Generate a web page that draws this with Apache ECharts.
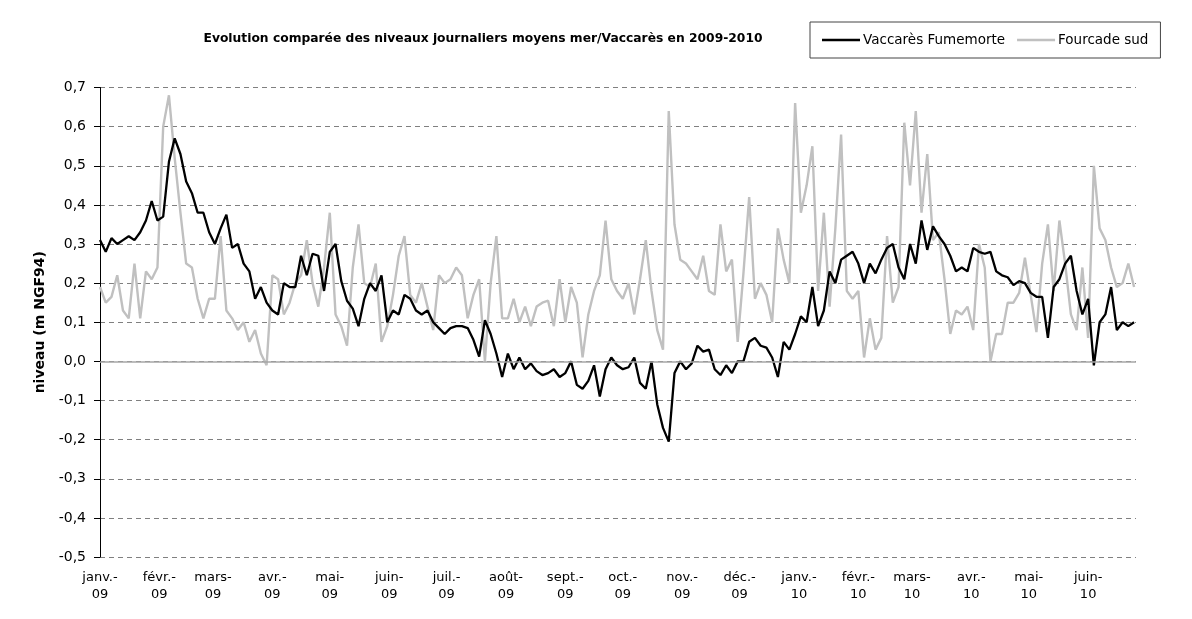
<!DOCTYPE html>
<html>
<head>
<meta charset="utf-8">
<script src="https://cdn.jsdelivr.net/npm/echarts@6/dist/echarts.min.js"></script>
<style>
  html, body { margin: 0; padding: 0; background: #fff; }
  #chart { width: 1192px; height: 619px; }
</style>
</head>
<body>
<div id="chart"></div>
<script>
// Daily mean water levels (m NGF94), one reading every 3 days from 1 Jan 2009
const startDate = Date.UTC(2009, 0, 1);
const endDate = Date.UTC(2010, 5, 26);
const stepDays = 3;

const titleText = 'Evolution comparée des niveaux journaliers moyens mer/Vaccarès en 2009-2010';
const yAxisTitle = 'niveau (m NGF94)';
const seriesNames = ['Vaccarès Fumemorte', 'Fourcade sud'];

const vaccares = [
  0.31, 0.28, 0.315, 0.30, 0.31, 0.32, 0.31, 0.33, 0.36, 0.41,
  0.36, 0.37, 0.51, 0.57, 0.53, 0.46, 0.43, 0.38, 0.38, 0.33,
  0.30, 0.34, 0.375, 0.29, 0.30, 0.25, 0.23, 0.16, 0.19, 0.15,
  0.13, 0.12, 0.20, 0.19, 0.19, 0.27, 0.22, 0.275, 0.27, 0.18,
  0.28, 0.30, 0.205, 0.155, 0.135, 0.09, 0.16, 0.20,
  0.18, 0.22, 0.10, 0.13, 0.12, 0.17, 0.16, 0.13, 0.12, 0.13,
  0.10, 0.085, 0.07, 0.085, 0.09, 0.09, 0.085, 0.055, 0.012, 0.105,
  0.07, 0.02, -0.04, 0.02, -0.02, 0.01, -0.02, -0.005, -0.025, -0.035,
  -0.03, -0.02, -0.04, -0.03, 0.0, -0.06, -0.07, -0.05, -0.01, -0.09,
  -0.02, 0.01, -0.01, -0.02, -0.015, 0.01, -0.055, -0.07, 0.0, -0.11,
  -0.17, -0.205, -0.03, 0.0, -0.02, -0.005, 0.04, 0.025, 0.03, -0.02,
  -0.035, -0.01, -0.03, 0.0, 0.0, 0.05, 0.06, 0.04, 0.035, 0.01,
  -0.04, 0.05, 0.03, 0.07, 0.115, 0.10, 0.19, 0.09, 0.13, 0.23,
  0.20, 0.26, 0.27, 0.28, 0.25, 0.20, 0.25, 0.225, 0.26, 0.29,
  0.30, 0.24, 0.21, 0.30, 0.25, 0.36, 0.285, 0.345,
  0.32, 0.30, 0.27, 0.23, 0.24, 0.23, 0.29, 0.28, 0.275, 0.28,
  0.23, 0.22, 0.215, 0.195, 0.205, 0.20, 0.175, 0.165, 0.165, 0.06,
  0.19, 0.21, 0.25, 0.27, 0.18, 0.12, 0.16, -0.01, 0.10, 0.12,
  0.19, 0.08, 0.10, 0.09, 0.10
];

const fourcade = [
  0.19, 0.15, 0.165, 0.22, 0.13, 0.11, 0.25, 0.11, 0.23, 0.21,
  0.24, 0.60, 0.68, 0.52, 0.38, 0.25, 0.24, 0.16, 0.11, 0.16,
  0.16, 0.32, 0.13, 0.11, 0.08, 0.10, 0.05, 0.08, 0.02, -0.01,
  0.22, 0.21, 0.12, 0.15, 0.20, 0.22, 0.31, 0.20, 0.14, 0.24,
  0.38, 0.12, 0.09, 0.04, 0.24, 0.35, 0.20, 0.19,
  0.25, 0.05, 0.09, 0.17, 0.27, 0.32, 0.17, 0.15, 0.20, 0.14,
  0.08, 0.22, 0.20, 0.21, 0.24, 0.22, 0.11, 0.17, 0.21, 0.0,
  0.20, 0.32, 0.11, 0.11, 0.16, 0.10, 0.14, 0.09, 0.14, 0.15,
  0.155, 0.09, 0.21, 0.10, 0.19, 0.15, 0.01, 0.12, 0.18, 0.22,
  0.36, 0.21, 0.18, 0.16, 0.20, 0.12, 0.21, 0.31, 0.18, 0.08,
  0.03, 0.64, 0.35, 0.26, 0.25, 0.23, 0.21, 0.27, 0.18, 0.17,
  0.35, 0.23, 0.26, 0.05, 0.225, 0.42, 0.16, 0.20, 0.17, 0.10,
  0.34, 0.26, 0.20, 0.66, 0.38, 0.45, 0.55, 0.18, 0.38, 0.14,
  0.34, 0.58, 0.18, 0.16, 0.18, 0.01, 0.11, 0.03, 0.06, 0.32,
  0.15, 0.19, 0.61, 0.45, 0.64, 0.38, 0.53, 0.31,
  0.33, 0.21, 0.07, 0.13, 0.12, 0.14, 0.08, 0.30, 0.24, 0.0,
  0.07, 0.07, 0.15, 0.15, 0.175, 0.265, 0.17, 0.075, 0.25, 0.35,
  0.18, 0.36, 0.25, 0.12, 0.08, 0.24, 0.06, 0.50, 0.34, 0.31,
  0.24, 0.19, 0.20, 0.25, 0.19
];

const monthLabels = [
  'janv.-', 'févr.-', 'mars-', 'avr.-', 'mai-', 'juin-',
  'juil.-', 'août-', 'sept.-', 'oct.-', 'nov.-', 'déc.-',
  'janv.-', 'févr.-', 'mars-', 'avr.-', 'mai-', 'juin-'
];
const yearLabels = [
  '09', '09', '09', '09', '09', '09', '09', '09', '09', '09', '09', '09',
  '10', '10', '10', '10', '10', '10'
];

const DAY_MS = 86400000;
// day offsets of the first of each month and of the last day on the axis
const monthStarts = monthLabels.map((_, i) => (Date.UTC(2009, i, 1) - startDate) / DAY_MS);
const axisEnd = (endDate - startDate) / DAY_MS;

const toPoints = (vals) => vals.map((v, i) => [i * stepDays, v]);

const FONT = 'DejaVu Sans';

const chart = echarts.init(document.getElementById('chart'), null, { renderer: 'canvas' });

chart.setOption({
  backgroundColor: '#ffffff',
  animation: false,
  grid: { left: 100, right: 56, top: 87.5, bottom: 62, containLabel: false },
  graphic: [{
    type: 'text',
    x: 483, y: 39,
    style: {
      text: titleText,
      textAlign: 'center',
      textVerticalAlign: 'middle',
      font: 'bold 12.3px "' + FONT + '"',
      fill: '#000'
    }
  }],
  legend: {
    data: seriesNames,
    left: 810, top: 22,
    orient: 'horizontal',
    icon: 'rect',
    borderColor: '#444',
    borderWidth: 1,
    padding: [11, 12, 11, 12],
    itemWidth: 38,
    itemHeight: 2.5,
    itemGap: 12,
    textStyle: { fontFamily: FONT, fontSize: 13.5, color: '#000', padding: [0, 0, 0, -2] }
  },
  xAxis: {
    type: 'value',
    min: 0,
    max: axisEnd,
    axisLine: { show: false },
    axisTick: { show: false },
    splitLine: { show: false },
    axisLabel: {
      customValues: monthStarts,
      margin: 12,
      fontFamily: FONT,
      fontSize: 13,
      lineHeight: 17,
      color: '#000',
      formatter: (v) => {
        const i = monthStarts.indexOf(v);
        return i < 0 ? '' : monthLabels[i] + '\n' + yearLabels[i];
      }
    }
  },
  yAxis: {
    type: 'value',
    min: -0.5,
    max: 0.7,
    interval: 0.1,
    name: yAxisTitle,
    nameLocation: 'middle',
    nameGap: 52,
    nameTextStyle: { fontFamily: FONT, fontSize: 14, fontWeight: 'bold', color: '#000' },
    axisLine: { show: true, lineStyle: { color: '#000', width: 1 } },
    axisTick: { show: true, length: 6, lineStyle: { color: '#000' } },
    axisLabel: {
      margin: 14,
      fontFamily: FONT,
      fontSize: 14,
      color: '#000',
      formatter: (v) => v.toFixed(1).replace('.', ',')
    },
    splitLine: { show: true, lineStyle: { color: '#808080', type: [5, 4], width: 1 } }
  },
  series: [
    {
      // zero reference line drawn beneath the data
      name: 'zero',
      type: 'line',
      data: [],
      z: 1,
      markLine: {
        silent: true,
        symbol: 'none',
        label: { show: false },
        lineStyle: { color: '#a6a6a6', type: 'solid', width: 1.5 },
        data: [{ yAxis: 0 }]
      }
    },
    {
      name: seriesNames[0],
      type: 'line',
      data: toPoints(vaccares),
      symbol: 'none',
      z: 4,
      lineStyle: { color: '#000000', width: 2.3 },
      itemStyle: { color: '#000000' }
    },
    {
      name: seriesNames[1],
      type: 'line',
      data: toPoints(fourcade),
      symbol: 'none',
      z: 3,
      lineStyle: { color: '#c0c0c0', width: 2.4 },
      itemStyle: { color: '#c0c0c0' }
    }
  ]
});
</script>
</body>
</html>
